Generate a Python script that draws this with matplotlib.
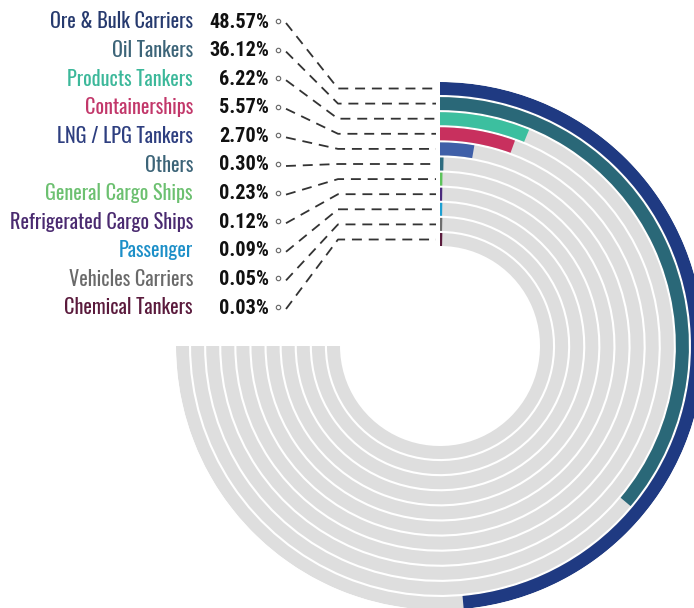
import numpy as np
import matplotlib
matplotlib.use('Agg')
import matplotlib.pyplot as plt
from matplotlib import font_manager as fm

categories = ['Ore & Bulk Carriers', 'Oil Tankers', 'Products Tankers', 'Containerships',
              'LNG / LPG Tankers', 'Others', 'General Cargo Ships', 'Refrigerated Cargo Ships',
              'Passenger', 'Vehicles Carriers', 'Chemical Tankers']
shares = [48.57, 36.12, 6.22, 5.57, 2.70, 0.30, 0.23, 0.12, 0.09, 0.05, 0.03]
colors = ['#1f3a82', '#2a6878', '#3cbf9f', '#c8305e', '#3f5fa8', '#2e6c80',
          '#5cc35a', '#4a2a7c', '#1c9fd2', '#6e6e6e', '#5a1a3c']
text_colors = ['#263a6e', '#3c6478', '#3cb89a', '#c2376a', '#2e3f80', '#3c6478',
               '#6cc070', '#4a2a70', '#1c8fc8', '#6a6a6a', '#5a1a3c']

# pick condensed faces that are installed (regular for names, bold for values)
faces = {}
for f in fm.fontManager.ttflist:
    w = f.weight if isinstance(f.weight, int) else (700 if 'bold' in str(f.weight) else 400)
    faces.setdefault(f.name, set()).add(w)

cands = ['Oswald', 'Roboto Condensed', 'Archivo Narrow', 'PT Sans Narrow',
         'Pathway Gothic One', 'Liberation Sans Narrow']
FONT = next((c for c in cands if c in faces), 'DejaVu Sans')
BOLD_FONT, BOLD_W = FONT, 'bold'
for c in cands:
    if c in faces and max(faces[c]) >= 600:
        BOLD_FONT, BOLD_W = c, max(w for w in faces[c] if w <= 700)
        break
else:
    if 'Fjalla One' in faces:
        BOLD_FONT, BOLD_W = 'Fjalla One', 'normal'

W, H = 694, 608
cx, cy = 440, 346          # ring centre in pixels
r_outer = 264
pitch = 15.1
thick = 13

fig = plt.figure(figsize=(W / 100, H / 100), dpi=100)

# radial bars: 100% = full turn, grey track covers three quarters
pax = fig.add_axes([(cx - r_outer) / W, (H - cy - r_outer) / H, 2 * r_outer / W, 2 * r_outer / H],
                   projection='polar')
pax.set_theta_zero_location('N')
pax.set_theta_direction(-1)
pax.set_ylim(0, r_outer)
pax.set_axis_off()

for i, (v, c) in enumerate(zip(shares, colors)):
    r_top = r_outer - pitch * i
    bottom = r_top - thick
    pax.bar(0, thick, width=1.5 * np.pi, bottom=bottom, align='edge',
            color='#dedede', edgecolor='none')
    ang = max(v / 100 * 2 * np.pi, 2.2 / (bottom + thick / 2))
    pax.bar(0, thick, width=ang, bottom=bottom, align='edge', color=c, edgecolor='none')

# labels and leader lines, pixel coordinates
ax = fig.add_axes([0, 0, 1, 1])
ax.set_xlim(0, W)
ax.set_ylim(H, 0)
ax.set_axis_off()

# size the text so the widest label / value fit the reference widths
renderer = fig.canvas.get_renderer()
t = ax.text(0, 0, 'Refrigerated Cargo Ships', fontsize=10, family=FONT)
name_size = min(10 * 183 / t.get_window_extent(renderer).width, 15)
t.remove()
t = ax.text(0, 0, '48.57%', fontsize=10, family=BOLD_FONT, fontweight=BOLD_W)
val_size = min(10 * 67 / t.get_window_extent(renderer).width, name_size)
t.remove()

row0, row_pitch = 20, 28.6
for i, (name, v) in enumerate(zip(categories, shares)):
    y = row0 + row_pitch * i
    ax.text(193, y, name, ha='right', va='center_baseline', fontsize=name_size,
            color=text_colors[i], family=FONT)
    ax.text(269, y, f'{v:.2f}%', ha='right', va='center_baseline', fontsize=val_size,
            fontweight=BOLD_W, color='#111111', family=BOLD_FONT)
    ring_y = cy - (r_outer - pitch * i - thick / 2)
    ax.plot([278], [y + 1], marker='o', ms=3.2, mfc='white', mec='#666666', mew=0.8)
    ax.plot([286, 338, 436], [y + 3, ring_y, ring_y], color='#333333', lw=1.3,
            dashes=(5.5, 3.8))

fig.savefig('out.png', dpi=100, facecolor='white')
